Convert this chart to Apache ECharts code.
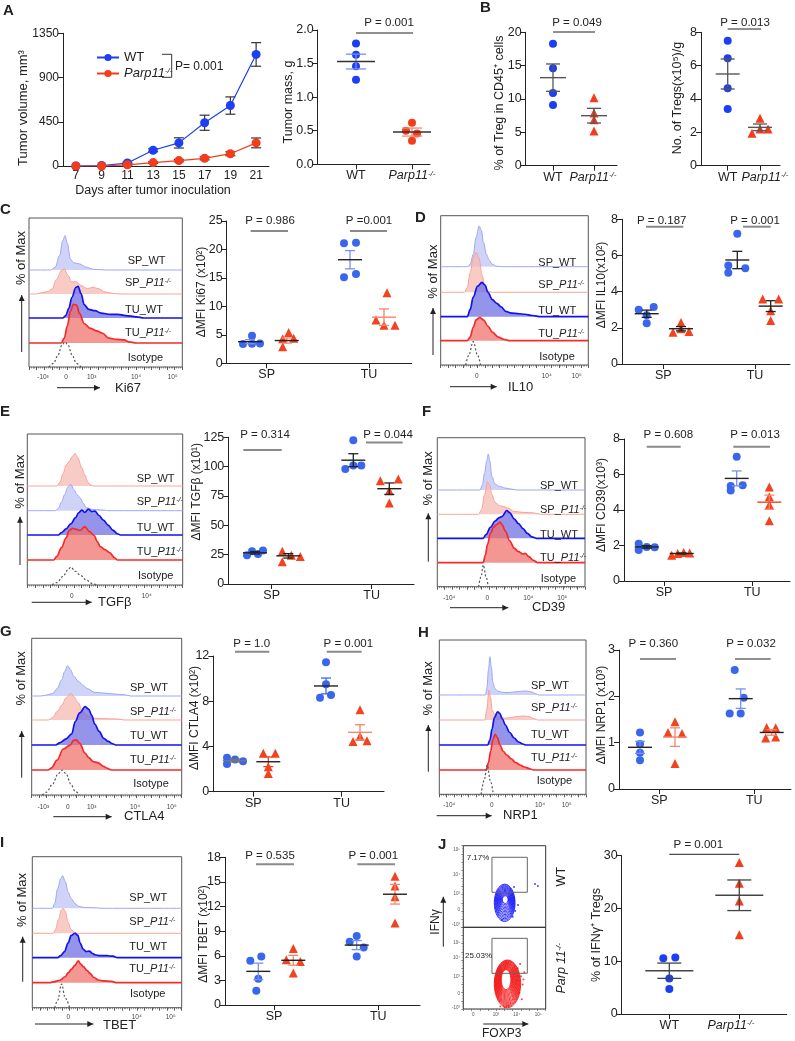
<!DOCTYPE html>
<html><head><meta charset="utf-8">
<script src="https://cdn.jsdelivr.net/npm/echarts@6/dist/echarts.min.js"></script>
<style>html,body{margin:0;padding:0;background:#fff}#c{width:795px;height:1041px}</style>
</head><body><div id="c"></div>
<script>
// ================= DATA =================
// A: tumor growth
const days = ['7','9','11','13','15','17','19','21'];
const volWT = [0, 5, 30, 160, 235, 440, 615, 1135];
const volWTsem = [0, 0, 8, 15, 52, 77, 88, 120];
const volKO = [0, 0, 12, 35, 55, 78, 125, 235];
const volKOsem = [0, 0, 5, 8, 12, 15, 20, 50];
// A: tumor mass
const massWT = [1.8, 1.63, 1.46, 1.26];
const massKO = [0.62, 0.5, 0.46, 0.35];
const massMean = [1.53, 0.48];
const massSem = [0.11, 0.06];
// B
const tregPctWT = [18.3, 14.6, 10.9, 9.1];
const tregPctKO = [10.2, 7.9, 6.9, 5.2];
const tregPctMean = [13.2, 7.5];
const tregPctSem = [2.05, 1.1];
const tregNumWT = [7.5, 6.45, 4.65, 3.4];
const tregNumKO = [2.85, 1.95, 2.2, 2.2];
const tregNumMean = [5.5, 2.3];
const tregNumSem = [0.9, 0.2];
// C Ki67
const ki67_SPWT = [4.85, 3.4, 3.5, 3.45];
const ki67_SPKO = [5.4, 4.3, 4.4, 2.9];
const ki67_TUWT = [21.1, 21.2, 15.1, 15.7];
const ki67_TUKO = [12.4, 7.6, 6.7, 6.7];
const ki67Mean = [3.8, 4.0, 18.2, 8.1];
const ki67Sem = [0.35, 0.45, 1.6, 1.45];
// D IL10
const il10_SPWT = [3.0, 3.15, 2.7, 2.25];
const il10_SPKO = [2.3, 1.75, 1.95, 1.8];
const il10_TUWT = [7.2, 5.45, 5.3, 5.05];
const il10_TUKO = [3.6, 3.6, 2.95, 2.4];
const il10Mean = [2.78, 1.95, 5.75, 3.2];
const il10Sem = [0.2, 0.12, 0.48, 0.3];
// E TGFb
const tgf_SPWT = [24.5, 28, 25.5, 28.5];
const tgf_SPKO = [28, 19, 24.5, 23.5];
const tgf_TUWT = [122.5, 98, 101, 101];
const tgf_TUKO = [88, 89.5, 79.5, 69];
const tgfMean = [26.6, 24, 105.5, 81.2];
const tgfSem = [1.0, 1.9, 5.5, 4.9];
// F CD39
const cd39_SPWT = [2.1, 1.75, 1.92, 1.9];
const cd39_SPKO = [1.45, 1.55, 1.6, 1.58];
const cd39_TUWT = [7.0, 5.4, 5.35, 5.1];
const cd39_TUKO = [5.3, 4.75, 4.3, 3.4];
const cd39Mean = [1.92, 1.55, 5.78, 4.44];
const cd39Sem = [0.07, 0.03, 0.42, 0.4];
// G CTLA4
const ctla4_SPWT = [3.0, 2.85, 2.7, 2.45];
const ctla4_SPKO = [3.4, 3.4, 2.2, 1.6];
const ctla4_TUWT = [11.45, 9.5, 8.55, 8.3];
const ctla4_TUKO = [7.25, 4.45, 4.9, 4.5];
const ctla4Mean = [2.75, 2.65, 9.35, 5.25];
const ctla4Sem = [0.12, 0.43, 0.7, 0.67];
// H NRP1
const nrp1_SPWT = [1.22, 0.97, 0.78, 0.62];
const nrp1_SPKO = [1.45, 1.22, 1.2, 0.55];
const nrp1_TUWT = [2.57, 1.97, 1.63, 1.63];
const nrp1_TUKO = [1.33, 1.32, 1.1, 1.12];
const nrp1Mean = [0.9, 1.12, 1.95, 1.22];
const nrp1Sem = [0.13, 0.2, 0.21, 0.06];
// I TBET
const tbet_SPWT = [5.4, 5.9, 3.2, 1.75];
const tbet_SPKO = [6.9, 5.5, 5.3, 3.9];
const tbet_TUWT = [7.7, 8.4, 7.0, 5.9];
const tbet_TUKO = [15.7, 14.5, 13.2, 10.0];
const tbetMean = [4.1, 5.45, 7.3, 13.5];
const tbetSem = [1.0, 0.6, 0.55, 1.2];
// J IFNg
const ifngWT = [10.55, 10.7, 6.75, 4.75];
const ifngKO = [28.7, 24.8, 21.4, 15.0];
const ifngMean = [8.2, 22.5];
const ifngSem = [1.45, 2.9];

// Histograms: [position on display scale 0-100, % of max in row units]
const hKi67_SPWT = [[0,0],[14,0],[17,0.1],[20,0.6],[22,1.2],[23.5,1.41],[25,1.1],[27,0.45],[29,0.3],[33,0.25],[37,0.12],[42,0.03],[50,0],[100,0]];
const hKi67_SPKO = [[0,0],[5,0],[8,0.05],[12,0.1],[15,0.2],[18,0.6],[21,0.95],[23,1.04],[25,0.8],[28,0.5],[31,0.5],[34,0.35],[38,0.22],[42,0.28],[45,0.22],[50,0.08],[55,0.02],[60,0],[100,0]];
const hKi67_TUWT = [[0,0],[22,0],[24,0.1],[26,0.4],[28,0.85],[30.5,1.25],[32,1.3],[34,1.0],[36,0.55],[39,0.35],[43,0.3],[47,0.2],[53,0.15],[58,0.15],[63,0.1],[70,0.05],[75,0],[100,0]];
const hKi67_TUKO = [[0,0],[21,0],[23,0.2],[25,0.7],[27,1.3],[29,1.58],[31,1.55],[33,1.2],[36,0.8],[40,0.6],[44,0.5],[48,0.4],[52,0.2],[57,0.15],[62,0.13],[65,0.05],[70,0],[100,0]];
const hKi67_ISO = [[13,0],[16,0.15],[19,0.5],[21.5,0.9],[23.5,1.03],[25.5,0.9],[28,0.5],[31,0.15],[34,0]];

const hIL10_SPWT = [[0,0],[18,0],[20,0.1],[22,0.5],[24,1.2],[26,1.67],[27.5,1.5],[29,1.0],[31,0.5],[33,0.25],[35,0.1],[38,0.02],[42,0],[100,0]];
const hIL10_SPKO = [[0,0],[16,0],[18,0.2],[20,0.8],[22,1.4],[24,1.64],[26,1.4],[28,0.7],[30,0.25],[32,0.05],[35,0],[100,0]];
const hIL10_TUWT = [[0,0],[18,0],[20,0.3],[22,0.8],[25,1.25],[28,1.41],[30,1.3],[32,1.0],[35,0.7],[38,0.55],[41,0.4],[44,0.22],[48,0.15],[53,0.12],[57,0.1],[62,0.05],[68,0],[100,0]];
const hIL10_TUKO = [[0,0],[18,0],[20,0.15],[22,0.55],[24,0.85],[26.5,0.96],[29,0.85],[32,0.6],[35,0.35],[39,0.15],[43,0.05],[47,0],[100,0]];
const hIL10_ISO = [[17,0],[19,0.4],[22,0.96],[25,0.4],[27,0]];

const hTGF_SPWT = [[0,0],[19,0],[21,0.15],[23,0.5],[25,0.85],[27,1.0],[29,1.2],[30.7,1.32],[32.5,1.15],[35,0.75],[37,0.45],[39,0.15],[41,0.03],[43,0],[100,0]];
const hTGF_SPKO = [[0,0],[18,0],[20,0.1],[22,0.35],[24,0.65],[26,0.95],[28,1.07],[30,0.85],[32,0.65],[34,0.52],[36,0.3],[38,0.12],[42,0.05],[50,0.02],[52,0],[100,0]];
const hTGF_TUWT = [[0,0],[20,0],[22,0.1],[25,0.25],[28,0.45],[31,0.7],[33,0.9],[35,1.01],[37,0.92],[39.3,1.05],[41.5,0.95],[43.6,0.97],[46,0.8],[49,0.6],[52,0.4],[55,0.2],[58,0.05],[60,0],[100,0]];
const hTGF_TUKO = [[0,0],[17,0],[19,0.15],[22,0.5],[25,0.9],[27,1.2],[29,1.28],[31,1.25],[34,1.2],[37,1.35],[40,1.15],[43,1.0],[45,0.75],[47,0.54],[50,0.42],[53,0.3],[56,0.1],[58,0],[100,0]];
const hTGF_ISO = [[16,0],[19,0.1],[23,0.35],[26,0.6],[28,0.72],[31,0.55],[34,0.4],[38,0.2],[42,0.05],[45,0]];

const hCD39_SPWT = [[0,0],[29,0],[30.5,0.2],[32,0.7],[33.5,1.2],[34.5,1.47],[35.5,1.2],[37,0.55],[39,0.25],[42,0.15],[46,0.08],[50,0.04],[54,0],[100,0]];
const hCD39_SPKO = [[0,0],[28,0],[30,0.2],[32,0.8],[34,1.34],[35.5,1.2],[37,0.8],[39,0.5],[42,0.35],[45,0.32],[48,0.25],[52,0.12],[58,0.08],[65,0.06],[70,0],[100,0]];
const hCD39_TUWT = [[0,0],[31,0],[33,0.15],[36,0.45],[39,0.7],[42,0.85],[44,0.9],[47,1.14],[49,1.05],[52,0.8],[55,0.6],[58,0.4],[61,0.2],[64,0.06],[67,0],[100,0]];
const hCD39_TUKO = [[0,0],[31,0],[32.5,0.3],[34,0.75],[36,1.2],[38,1.45],[40,1.55],[42.4,1.66],[44,1.55],[46,1.3],[49,0.9],[52,0.6],[55,0.45],[58,0.35],[59.5,0.38],[62,0.25],[65,0.1],[68,0],[100,0]];
const hCD39_ISO = [[28,0],[29.5,0.4],[31.2,0.89],[33,0.4],[34.5,0]];

const hCTLA4_SPWT = [[0,0],[6,0],[10,0.04],[14,0.1],[17,0.3],[20,0.65],[22,1.0],[24,1.22],[26,1.05],[28,0.8],[31,0.6],[34,0.45],[37,0.3],[42,0.15],[48,0.12],[55,0.08],[62,0.05],[66,0],[100,0]];
const hCTLA4_SPKO = [[0,0],[11,0],[14,0.1],[17,0.35],[20,0.6],[23,0.9],[26,1.08],[28,0.95],[31,0.7],[34,0.35],[38,0.15],[42,0.07],[50,0.05],[57,0.04],[62,0],[100,0]];
const hCTLA4_TUWT = [[0,0],[16,0],[19,0.1],[23,0.25],[26.7,0.45],[29,0.95],[32,1.3],[35.6,1.55],[38,1.45],[40,1.2],[42,0.85],[45,0.55],[48,0.27],[51,0.15],[54,0.05],[56,0],[100,0]];
const hCTLA4_TUKO = [[0,0],[11,0],[13,0.08],[17,0.4],[21,0.85],[25.6,1.01],[28,1.2],[29.6,1.22],[32,1.08],[35.6,0.68],[38,0.5],[41,0.34],[44,0.3],[47.8,0.15],[50,0.08],[53,0],[100,0]];
const hCTLA4_ISO = [[7,0],[10,0.12],[14,0.45],[17.5,0.85],[20.4,1.01],[23,0.85],[26,0.45],[29,0.15],[32,0]];

const hNRP1_SPWT = [[0,0],[31.5,0],[32.5,0.3],[33.5,1.0],[34.5,1.53],[35.5,1.1],[36.5,0.5],[38,0.25],[40,0.15],[44,0.1],[48,0.1],[52,0.13],[56,0.15],[59.5,0.16],[63,0.12],[66,0.04],[68,0],[100,0]];
const hNRP1_SPKO = [[0,0],[31,0],[32.3,0.4],[33.9,1.2],[35,0.9],[36,0.4],[38,0.2],[41,0.1],[45,0.07],[49,0.1],[53,0.14],[57,0.16],[61,0.14],[65,0.05],[67,0],[100,0]];
const hNRP1_TUWT = [[0,0],[33,0],[34.5,0.2],[36,0.65],[37.5,1.1],[39.8,1.33],[41,1.28],[43,1.05],[45,0.8],[48,0.5],[51,0.28],[54,0.12],[57,0.04],[59,0],[100,0]];
const hNRP1_TUKO = [[0,0],[32,0],[33.5,0.3],[35,0.75],[36.5,1.2],[38,1.43],[39.5,1.3],[41.4,1.0],[43.5,0.75],[46,0.6],[49,0.45],[52,0.3],[55,0.2],[58,0.12],[61.8,0.05],[64,0],[100,0]];
const hNRP1_ISO = [[28.5,0],[30.5,0.55],[32.7,1.17],[34.8,0.55],[36.8,0]];

const hTBET_SPWT = [[0,0],[13.5,0],[15,0.2],[17,0.8],[19,1.2],[20.3,1.32],[22,1.1],[24,0.65],[26,0.4],[28.5,0.2],[31,0.08],[35,0.03],[43,0.02],[46,0],[100,0]];
const hTBET_SPKO = [[0,0],[14,0],[15.5,0.15],[17.5,0.55],[19.5,0.95],[20.8,1.01],[22,0.9],[24,0.45],[26,0.15],[28,0.05],[30,0],[100,0]];
const hTBET_TUWT = [[0,0],[17,0],[19,0.08],[21.5,0.25],[24,0.6],[26,0.9],[28.6,0.99],[30.5,0.9],[32,0.6],[34,0.35],[36,0.25],[38.2,0.27],[40,0.18],[42,0.12],[45,0.08],[50,0.08],[54,0.06],[57,0],[100,0]];
const hTBET_TUKO = [[0,0],[11.5,0],[14,0.03],[18.5,0.1],[21.9,0.24],[24,0.4],[26.3,0.55],[28.5,0.7],[30.8,0.88],[32.5,0.75],[34.2,0.65],[36.5,0.5],[38.6,0.38],[41,0.22],[44.2,0.11],[48,0.07],[53,0.05],[56.5,0],[100,0]];
const hTBET_ISO = [[15,0],[17,0.3],[19.6,0.96],[22,0.4],[25,0]];

// J flow: contour levels [cx, cy, rx, ry] on display scale, outlier events, gates
const contourWT = [[50.2,30.0,12.6,22.9],[50.3,30.3,11.9,21.5],[50.3,30.6,11.2,20.1],[50.4,30.9,10.5,18.7],[50.4,31.2,9.8,17.3],[50.5,31.5,9.1,15.9],[50.5,31.8,8.4,14.5],[50.6,32.1,7.7,13.1],[50.6,32.4,7.0,11.7],[50.7,32.7,6.3,10.3],[50.7,33.0,5.6,8.9],[50.8,33.3,4.9,7.5],[50.8,33.6,4.2,6.1],[50.9,33.9,3.5,4.7]];
const eventsWT = [[87,53],[90.5,50.6],[66.4,27.3],[61.5,49.4],[46.8,9],[60,13],[63,20]];
const contourKO = [[53.6,30.8,16.0,29.2],[53.5,31.1,15.4,28.2],[53.4,31.4,14.8,27.2],[53.3,31.7,14.2,26.2],[53.2,32.0,13.6,25.2],[53.1,32.3,13.0,24.2],[53.0,32.6,12.4,23.2],[52.9,32.9,11.8,22.2],[52.8,33.2,11.2,21.2],[52.7,33.5,10.6,20.2],[52.6,33.8,10.0,19.2],[52.5,34.1,9.4,18.2],[52.4,34.4,8.8,17.2],[52.3,34.7,8.2,16.2],[52.2,35.0,7.6,15.2],[52.1,35.3,7.0,14.2],[52.0,35.6,6.4,13.2],[51.9,35.9,5.8,12.2]];
const eventsKO = [[70,40],[72,30],[68,20],[74,45],[45,3],[50,2],[55,4],[66,50],[71,12],[73,36],[69,55]];
const gateWT = [34.8, 42.9, 77.7, 85.8];
const gateKO = [34.8, 43.7, 77.7, 86.5];

// ================= STYLE / HELPERS =================
const FF = '"Liberation Sans", Arial, Helvetica, sans-serif';
const BLUE = '#1c3ef5', RED = '#f43c1c', BLUE2 = '#3a66ee', RED2 = '#f2431f';
const LBLUE = '#7890ef', LRED = '#f5866f';
const option = {animation:false, textStyle:{fontFamily:FF}, grid:[], xAxis:[], yAxis:[], series:[], graphic:[]};

function gRich(fs){
  return {n:{fontSize:fs,fontFamily:FF,fill:'#222'}, i:{fontSize:fs,fontFamily:FF,fontStyle:'italic',fill:'#222'},
          s:{fontSize:Math.round(fs*0.62),fontFamily:FF,fontStyle:'italic',fill:'#222',verticalAlign:'top'}};
}
function aRich(fs){
  return {i:{fontSize:fs,fontFamily:FF,fontStyle:'italic',color:'#222'},
          s:{fontSize:Math.round(fs*0.62),fontFamily:FF,fontStyle:'italic',color:'#222',verticalAlign:'top'}};
}
function txt(x, y, text, o){
  o = o || {};
  const fs = o.fs || 12, al = o.align || 'center';
  option.graphic.push({type:'text', x:x, y:y, rotation:o.rot||0, silent:true, z:20,
    style:{text:text, fill:o.color||'#222', fontSize:fs, fontFamily:FF, fontStyle:o.it?'italic':'normal',
      fontWeight:o.bold?'bold':'normal', align:al, textAlign:al, verticalAlign:'middle', textVerticalAlign:'middle', rich:gRich(fs)}});
}
function seg(x1,y1,x2,y2,color,w,dash){
  option.graphic.push({type:'line', silent:true, z:20, shape:{x1:x1,y1:y1,x2:x2,y2:y2},
    style:{stroke:color||'#222', lineWidth:w||1, lineDash:dash||null}});
}
function arrow(x1,y1,x2,y2){
  seg(x1,y1,x2,y2,'#222',1);
  const a = Math.atan2(y2-y1,x2-x1), L = 6, Wd = 3;
  option.graphic.push({type:'polygon', silent:true, z:20, shape:{points:[[x2,y2],
    [x2-L*Math.cos(a)+Wd*Math.sin(a), y2-L*Math.sin(a)-Wd*Math.cos(a)],
    [x2-L*Math.cos(a)-Wd*Math.sin(a), y2-L*Math.sin(a)+Wd*Math.cos(a)]]}, style:{fill:'#222'}});
}
function addGrid(grid, xa, ya){
  option.grid.push(grid);
  const i = option.grid.length - 1;
  xa.gridIndex = i; ya.gridIndex = i;
  option.xAxis.push(xa); option.yAxis.push(ya);
  return i;
}
function semSeries(gi, x, mean, sem, mc, sc, mw, cw){
  option.series.push({type:'custom', xAxisIndex:gi, yAxisIndex:gi, silent:true, z:4, clip:false,
    data:[[x, mean, sem]],
    renderItem:function(p, api){
      const c = api.coord([api.value(0), api.value(1)]);
      const t = api.coord([api.value(0), api.value(1)+api.value(2)]);
      const b = api.coord([api.value(0), api.value(1)-api.value(2)]);
      const st = {stroke:sc, lineWidth:1.3};
      return {type:'group', children:[
        {type:'line', shape:{x1:t[0],y1:t[1],x2:b[0],y2:b[1]}, style:st},
        {type:'line', shape:{x1:t[0]-cw,y1:t[1],x2:t[0]+cw,y2:t[1]}, style:st},
        {type:'line', shape:{x1:b[0]-cw,y1:b[1],x2:b[0]+cw,y2:b[1]}, style:st},
        {type:'line', shape:{x1:c[0]-mw,y1:c[1],x2:c[0]+mw,y2:c[1]}, style:{stroke:mc, lineWidth:1.4}}]};
    }});
}

function scatterPanel(P){
  const W = P.x1 - P.x0, fs = P.fs || 12.5;
  const tickVals = P.xl.map(function(l){ return l[0] - P.x0; });
  const labVals = P.xl.map(function(l){ return (l[2] || l[0]) - P.x0; });
  const labFor = function(v){ for (const l of P.xl) { if (Math.abs(((l[2] || l[0]) - P.x0) - v) < 0.05) return l[1]; } return ''; };
  const gi = addGrid({left:P.x0, top:P.yTop, width:W, height:P.yBot-P.yTop},
    {type:'value', min:0, max:W, splitLine:{show:false},
     axisLine:{show:true, onZero:false, lineStyle:{color:'#222', width:1}},
     axisTick:{show:true, length:5, customValues:tickVals, lineStyle:{color:'#222'}},
     axisLabel:{show:true, customValues:labVals, formatter:labFor, hideOverlap:false, margin:5, fontSize:fs, color:'#222', fontFamily:FF, rich:aRich(fs)}},
    {type:'value', min:P.min, max:P.max, interval:P.int, splitLine:{show:false},
     axisLine:{show:true, lineStyle:{color:'#222', width:1}},
     axisTick:{show:true, length:5, lineStyle:{color:'#222'}},
     axisLabel:{fontSize:fs, color:'#222', margin:4, fontFamily:FF,
       formatter:function(v){ return P.dec ? v.toFixed(P.dec) : String(v); }}});
  P.groups.forEach(function(g){
    option.series.push({type:'scatter', xAxisIndex:gi, yAxisIndex:gi, silent:true, z:3,
      symbol: g.sym === 'tri' ? 'triangle' : 'circle', symbolSize: g.sym === 'tri' ? 9 : 8,
      itemStyle:{color:g.col, opacity:1},
      data: g.v.map(function(v,k){ return [g.c - P.x0 + (g.jit ? g.jit[k] : 0), v]; })});
    semSeries(gi, g.c - P.x0, g.m, g.s, g.mc, g.sc, P.mw, P.cw);
  });
  P.p.forEach(function(q){ txt(q[1], q[2], q[0], {fs:11.5}); seg(q[3], q[5], q[4], q[5], P.pc, P.pw); });
  txt(P.yt[1], P.yt[2], P.yt[0], {rot:Math.PI/2, fs:P.ytf || 12});
}

const HS = {
  lb:{line:'#9ea6f1', fill:'rgba(196,200,246,0.8)', w:1},
  lr:{line:'#f5a39a', fill:'rgba(247,186,178,0.75)', w:1},
  b:{line:'#1212ee', fill:'rgba(112,112,228,0.75)', w:1.7},
  r:{line:'#f52a2a', fill:'rgba(240,110,104,0.72)', w:1.7},
  iso:{line:'#555', dash:[2,2], w:1.2}
};
const ROWLAB = ['SP_WT', 'SP_{i|P11}{s|-/-}', 'TU_WT', 'TU_{i|P11}{s|-/-}', 'Isotype'];

function histPanel(H){
  const W = H.R - H.L;
  addGrid({left:H.L, top:H.T, width:W, height:H.B-H.T, show:true, borderColor:'#555', borderWidth:1, backgroundColor:'rgba(0,0,0,0)'},
    {type:'value', min:0, max:100, interval:5, splitLine:{show:false}, axisLine:{show:false}, axisLabel:{show:false},
     axisTick:{show:true, length:3, lineStyle:{color:'#333', width:0.8}},
     minorTick:{show:true, splitNumber:4, length:1.5, lineStyle:{color:'#555', width:0.6}}},
    {type:'value', min:0, max:1, show:false});
  H.rows.forEach(function(d, k){
    const st = HS[H.sty[k]];
    const gi = addGrid({left:H.L, top:H.base[k]-H.rh, width:W, height:H.rh},
      {type:'value', min:0, max:100, show:false}, {type:'value', min:0, max:1, show:false});
    const s = {type:'line', xAxisIndex:gi, yAxisIndex:gi, data:d, showSymbol:false, symbol:'none', silent:true,
      smooth:0.35, smoothMonotone:'x', clip:false, z:2+k*0.01,
      lineStyle:{color:st.line, width:st.w, type: st.dash ? st.dash : 'solid'}};
    if (st.fill) s.areaStyle = {color:st.fill, opacity:1};
    option.series.push(s);
    txt(H.lab[k][0], H.lab[k][1], ROWLAB[k], {fs:11, align:'left'});
  });
  H.xt[1].forEach(function(t){ txt(t[0], H.xt[0], t[1], {fs:6.5, color:'#444'}); });
  arrow(H.up[0], H.up[1], H.up[0], H.up[2]);
  txt(H.pm[0], H.pm[1], '% of Max', {rot:Math.PI/2, fs:13});
  arrow(H.rt[0], H.rt[2], H.rt[1], H.rt[2]);
  txt(H.nm[1], H.nm[2], H.nm[0], {fs:13, align:'left'});
}

// ================= PANEL A =================
const gA = addGrid({left:63, top:33.3, width:206, height:132.7},
  {type:'category', data:days, boundaryGap:true, axisLine:{lineStyle:{color:'#222'}},
   axisTick:{alignWithLabel:true, length:4, lineStyle:{color:'#222'}}, axisLabel:{fontSize:12, color:'#222', margin:4}},
  {type:'value', min:0, max:1350, interval:450, splitLine:{show:false}, axisLine:{show:true, lineStyle:{color:'#222'}},
   axisTick:{show:true, length:5, lineStyle:{color:'#222'}}, axisLabel:{fontSize:12, color:'#222', margin:4, formatter:function(v){ return String(v); }}});
function errSeries(gi, vals, errs){
  option.series.push({type:'custom', xAxisIndex:gi, yAxisIndex:gi, silent:true, z:2,
    data: vals.map(function(v,i){ return [i, v, errs[i]]; }),
    renderItem:function(p, api){
      const i = api.value(0), v = api.value(1), e = api.value(2);
      if (!(e > 0)) return null;
      const t = api.coord([i, v+e]), b = api.coord([i, v-e]);
      const st = {stroke:'#333', lineWidth:1.2};
      return {type:'group', children:[
        {type:'line', shape:{x1:t[0],y1:t[1],x2:b[0],y2:b[1]}, style:st},
        {type:'line', shape:{x1:t[0]-5,y1:t[1],x2:t[0]+5,y2:t[1]}, style:st},
        {type:'line', shape:{x1:b[0]-5,y1:b[1],x2:b[0]+5,y2:b[1]}, style:st}]};
    }});
}
errSeries(gA, volWT, volWTsem);
errSeries(gA, volKO, volKOsem);
option.series.push({name:'WT', type:'line', xAxisIndex:gA, yAxisIndex:gA, data:volWT, symbol:'circle', symbolSize:9,
  itemStyle:{color:BLUE}, lineStyle:{color:BLUE, width:1.2}, z:3, silent:true});
option.series.push({name:'Parp11', type:'line', xAxisIndex:gA, yAxisIndex:gA, data:volKO, symbol:'circle', symbolSize:9,
  itemStyle:{color:RED}, lineStyle:{color:RED, width:1.2}, z:3, silent:true});
option.legend = {data:['WT','Parp11'], orient:'vertical', left:91, top:46, itemWidth:22, itemHeight:9, itemGap:3,
  selectedMode:false, textStyle:{fontSize:13, color:'#222', fontFamily:FF, rich:aRich(13)},
  formatter:function(n){ return n === 'WT' ? 'WT' : '{i|Parp11}{s|-/-}'; }};
option.graphic.push({type:'polyline', silent:true, z:20, shape:{points:[[162,54.3],[171.7,54.3],[171.7,77.3],[162,77.3]]}, style:{stroke:'#333', lineWidth:1, fill:null}});
txt(175, 66.7, 'P= 0.001', {fs:12, align:'left'});
txt(153, 191, 'Days after tumor inoculation', {fs:12.5});
txt(23.3, 108, 'Tumor volume, mm³', {rot:Math.PI/2, fs:13});

scatterPanel({x0:317.7, x1:430, yTop:30, yBot:164.3, min:0, max:2, int:0.5, dec:1, mw:19, cw:10, fs:12.5, pc:'#222', pw:1, ytf:12.5,
  groups:[{c:356, v:massWT, m:massMean[0], s:massSem[0], col:BLUE, sym:'circle', jit:[0,0,0,0], mc:'#333', sc:LBLUE},
          {c:412, v:massKO, m:massMean[1], s:massSem[1], col:RED, sym:'circle', jit:[0,-6,5,0], mc:'#333', sc:LRED}],
  xl:[[356,'WT'],[412,'{i|Parp11}{s|-/-}']], p:[['P = 0.001',389,23,356,413,33]], yt:['Tumor mass, g',288.5,102]});

// ================= PANEL B =================
scatterPanel({x0:525.7, x1:617, yTop:32.3, yBot:165.7, min:0, max:20, int:5, mw:13, cw:7, pc:'#222', pw:1, ytf:12.5,
  groups:[{c:553, v:tregPctWT, m:tregPctMean[0], s:tregPctSem[0], col:BLUE, sym:'circle', mc:'#555', sc:'#555'},
          {c:594, v:tregPctKO, m:tregPctMean[1], s:tregPctSem[1], col:RED, sym:'tri', mc:'#555', sc:'#555'}],
  xl:[[553,'WT'],[594,'{i|Parp11}{s|-/-}',593]], p:[['P = 0.049',577,23,553,595,32]], yt:['% of Treg in CD45⁺ cells',500,103]});
scatterPanel({x0:701, x1:780, yTop:32.3, yBot:165.7, min:0, max:8, int:2, mw:12, cw:7, pc:'#222', pw:1, ytf:12.5,
  groups:[{c:727.7, v:tregNumWT, m:tregNumMean[0], s:tregNumSem[0], col:BLUE, sym:'circle', mc:'#555', sc:'#555'},
          {c:760, v:tregNumKO, m:tregNumMean[1], s:tregNumSem[1], col:RED, sym:'tri', jit:[0,-8,0,8], mc:'#555', sc:'#555'}],
  xl:[[727.7,'WT'],[760,'{i|Parp11}{s|-/-}',765]], p:[['P = 0.013',745,23,727.7,761,29]], yt:['No. of Tregs(x10⁵)/g',678,98]});

// ================= PANELS C-I (dot plots) =================
function fourGroups(cs, arrs, means, sems, jits, mcs, scs){
  return arrs.map(function(a, k){
    return {c:cs[k], v:a, m:means[k], s:sems[k], col:(k%2 ? RED2 : BLUE2), sym:(k%2 ? 'tri' : 'circle'), jit:jits[k], mc:mcs[k], sc:scs[k]};
  });
}
const K = '#222';
scatterPanel({x0:226.7, x1:411.7, yTop:221, yBot:363.3, min:0, max:25, int:5, mw:12, cw:5, pc:'#8a8a8a', pw:2,
  groups:fourGroups([250,286.7,350,384],[ki67_SPWT,ki67_SPKO,ki67_TUWT,ki67_TUKO],ki67Mean,ki67Sem,
    [[2,-7,10,2],[2,-4,7,-4],[-6,6,-6,6],[3,-8,0,11]],[K,K,K,LRED],[LBLUE,LRED,LBLUE,LRED]),
  xl:[[266.7,'SP'],[369,'TU']], p:[['P = 0.986',270,221,250.7,288,231],['P =0.001',369,221,350,387,231]],
  yt:['ΔMFI Ki67 (x10²)',201.7,292]});
scatterPanel({x0:622, x1:790, yTop:219.3, yBot:364, min:0, max:8, int:2, mw:12, cw:5, pc:'#8a8a8a', pw:2,
  groups:fourGroups([646.7,681,737.3,770.7],[il10_SPWT,il10_SPKO,il10_TUWT,il10_TUKO],il10Mean,il10Sem,
    [[-8,7,0,0],[0,-8,0,8],[0,-9,8,-9],[-8,8,0,0]],[K,K,K,K],[K,K,K,K]),
  xl:[[663.3,'SP'],[755,'TU']], p:[['P = 0.187',661.7,221,646,683.3,226.7],['P = 0.001',755,221,743,770.7,226.7]],
  yt:['ΔMFI IL10(x10²)',601.7,285]});
scatterPanel({x0:228.3, x1:414, yTop:437.3, yBot:584, min:0, max:125, int:25, mw:12, cw:5, pc:'#8a8a8a', pw:2,
  groups:fourGroups([255,288.3,353.3,389.3],[tgf_SPWT,tgf_SPKO,tgf_TUWT,tgf_TUKO],tgfMean,tgfSem,
    [[-8,-3,3,8],[-6,-6,3,12],[0,-8,0,8],[-9,9,0,0]],[K,K,K,K],[K,K,K,K]),
  xl:[[271.7,'SP'],[371.7,'TU']], p:[['P = 0.314',265,435,243.3,281.7,450],['P = 0.044',388,435,366,402.7,442.6]],
  yt:['ΔMFI TGFβ (x10¹)',196.7,491.7]});
scatterPanel({x0:624, x1:790, yTop:439, yBot:581, min:0, max:8, int:2, mw:12, cw:5, pc:'#8a8a8a', pw:2,
  groups:fourGroups([646.7,681.7,736.7,769.3],[cd39_SPWT,cd39_SPKO,cd39_TUWT,cd39_TUKO],cd39Mean,cd39Sem,
    [[-8,-8,0,8],[-10,-4,2,8],[0,6,-6,-6],[0,0,0,0]],[K,K,K,RED2],[K,K,LBLUE,LRED]),
  xl:[[664,'SP'],[752.3,'TU']], p:[['P = 0.608',668.3,435,646.7,680.7,446.7],['P = 0.013',755,435,733.3,770,446.7]],
  yt:['ΔMFI CD39(x10³)',601.7,505]});
scatterPanel({x0:213.3, x1:384, yTop:656, yBot:791.7, min:0, max:12, int:4, mw:12, cw:5, pc:'#8a8a8a', pw:2,
  groups:fourGroups([235,268.3,326,360],[ctla4_SPWT,ctla4_SPKO,ctla4_TUWT,ctla4_TUKO],ctla4Mean,ctla4Sem,
    [[-8,0,8,-8],[-5,7,0,0],[0,0,5,-6],[0,-7,0,7]],['#777',K,K,LRED],['#777',RED2,BLUE2,LRED]),
  xl:[[253.3,'SP'],[341.7,'TU']], p:[['P = 1.0',251.7,644.3,235,269.3,651.7],['P = 0.001',348.3,644.3,326.7,361.7,651.7]],
  yt:['ΔMFI CTLA4 (x10²)',195,718]});
scatterPanel({x0:619, x1:791, yTop:650, yBot:789, min:0, max:3, int:1, mw:12, cw:5, pc:'#222', pw:1.2,
  groups:fourGroups([640,675,740.7,771.7],[nrp1_SPWT,nrp1_SPKO,nrp1_TUWT,nrp1_TUKO],nrp1Mean,nrp1Sem,
    [[0,0,0,0],[0,-7,7,0],[-6,3,-11,0],[-5,4,-6,4]],[K,LRED,K,K],[LBLUE,LRED,LBLUE,LRED]),
  xl:[[659.3,'SP'],[754.3,'TU']], p:[['P = 0.360',653.3,644.3,640,676,659],['P = 0.032',751,644.3,735,770.7,659]],
  yt:['ΔMFI NRP1 (x10³)',601.7,715]});
scatterPanel({x0:225, x1:420, yTop:857.3, yBot:1005, min:0, max:18, int:3, mw:12, cw:5, pc:'#8a8a8a', pw:2,
  groups:fourGroups([258.3,293.3,356.7,395],[tbet_SPWT,tbet_SPKO,tbet_TUWT,tbet_TUKO],tbetMean,tbetSem,
    [[-8,3,0,-2],[0,-7,7,0],[-7,0,7,0],[0,0,0,0]],[K,K,K,K],[LBLUE,LRED,LBLUE,LRED]),
  xl:[[274,'SP'],[378.3,'TU']], p:[['P = 0.535',270,855.7,256,294,864.3],['P = 0.001',373.3,855.7,357.3,395,864.3]],
  yt:['ΔMFI TBET (x10²)',204,934]});

// ================= HISTOGRAMS =================
const STD = ['lb','lr','b','r','iso'];
histPanel({L:29,R:182.3,T:218,B:367,base:[270,294,318,343,367],rh:24.4,
  rows:[hKi67_SPWT,hKi67_SPKO,hKi67_TUWT,hKi67_TUKO,hKi67_ISO], sty:STD,
  lab:[[127.7,261],[125,283],[125,310],[125,333],[127.7,357.7]],
  xt:[377.7,[[43,'-10³'],[66,'0'],[91.7,'10³'],[136,'10⁴'],[172.7,'10⁵']]],
  up:[21.7,352,295], pm:[21.7,258], rt:[57,100,387.7], nm:['Ki67',115,388]});
histPanel({L:440.7,R:588.3,T:215.7,B:365,base:[266.7,292.3,316.7,340.7,365],rh:24.4,
  rows:[hIL10_SPWT,hIL10_SPKO,hIL10_TUWT,hIL10_TUKO,hIL10_ISO], sty:STD,
  lab:[[538.3,262.7],[538.3,285],[538.3,311],[538.3,334.3],[539.3,357.3]],
  xt:[376.7,[[476.7,'0'],[546.7,'10⁴'],[576.7,'10⁵']]],
  up:[433,355,308], pm:[433,271.7], rt:[450,496.7,386.7], nm:['IL10',508,387]});
histPanel({L:27.3,R:182.7,T:434,B:585,base:[486,510.7,535,560,585],rh:24.7,
  rows:[hTGF_SPWT,hTGF_SPKO,hTGF_TUWT,hTGF_TUKO,hTGF_ISO], sty:['lr','lb','b','r','iso'],
  lab:[[136.7,479.3],[136.7,502.3],[136.7,528.3],[136.7,551.7],[138,575.7]],
  xt:[596.7,[[71.7,'0'],[146.7,'10⁴']]],
  up:[20,565,516.7], pm:[20,481.7], rt:[31.7,91.7,602.3], nm:['TGFβ',98,602]});
histPanel({L:437.3,R:585,T:437.7,B:586.7,base:[490,514.3,538.3,562.7,586.7],rh:24.4,
  rows:[hCD39_SPWT,hCD39_SPKO,hCD39_TUWT,hCD39_TUKO,hCD39_ISO], sty:STD,
  lab:[[540,486],[540,510],[540,535],[540,558.3],[540.7,579.3]],
  xt:[598.3,[[449.3,'-10⁴'],[487.3,'0'],[528.3,'10⁴'],[562.3,'10⁵']]],
  up:[428.3,561.7,513.3], pm:[428.3,478.3], rt:[450,508.3,607.7], nm:['CD39',532,607]});
histPanel({L:31.7,R:181.7,T:638.3,B:795,base:[696,720,745,770,795],rh:24.7,
  rows:[hCTLA4_SPWT,hCTLA4_SPKO,hCTLA4_TUWT,hCTLA4_TUKO,hCTLA4_ISO], sty:STD,
  lab:[[130,688.3],[130,712.3],[130,736],[130,760],[133.3,784]],
  xt:[807.7,[[43.3,'-10³'],[67.7,'0'],[91.7,'10³'],[135,'10⁴'],[171.7,'10⁵']]],
  up:[21.7,777.7,731], pm:[21.7,678.3], rt:[53.3,111.7,816.7], nm:['CTLA4',124,816]});
histPanel({L:439.3,R:586,T:640,B:794.3,base:[695,720,745,770,794.3],rh:25,
  rows:[hNRP1_SPWT,hNRP1_SPKO,hNRP1_TUWT,hNRP1_TUKO,hNRP1_ISO], sty:STD,
  lab:[[531,686],[531,708.3],[531,735],[531,758.3],[536.7,781]],
  xt:[805,[[449.3,'-10⁴'],[491.7,'0'],[540,'10⁴'],[566.7,'10⁵']]],
  up:[428.3,771.7,725], pm:[428.3,688.3], rt:[436.7,491.7,815.7], nm:['NRP1',503,815]});
histPanel({L:32.3,R:181.7,T:856.7,B:1007.7,base:[908.3,933.3,957.7,982.7,1007.7],rh:24.7,
  rows:[hTBET_SPWT,hTBET_SPKO,hTBET_TUWT,hTBET_TUKO,hTBET_ISO], sty:STD,
  lab:[[129.3,898.3],[129.3,921.7],[129.3,946.7],[129.3,969.3],[130,994]],
  xt:[1017.7,[[68.3,'0'],[136.7,'10⁴'],[170.7,'10⁵']]],
  up:[22.7,981.7,936.7], pm:[22.7,900], rt:[35,93.3,1024], nm:['TBET',103,1025]});

// ================= PANEL J =================
function flowBox(top, h, cont, ev, gate, col, showX, lw){
  const tickAx = function(show){ return {type:'value', min:0, max:100, interval:10, splitLine:{show:false}, axisLine:{show:false}, axisLabel:{show:false},
    axisTick:{show:show, length:2, lineStyle:{color:'#444', width:0.6}}, minorTick:{show:show, splitNumber:3, length:1, lineStyle:{color:'#666', width:0.5}}}; };
  const gi = addGrid({left:463.3, top:top, width:82.4, height:h, show:true, borderColor:'#333', borderWidth:1, backgroundColor:'rgba(0,0,0,0)'},
    tickAx(showX), tickAx(true));
  option.series.push({type:'custom', xAxisIndex:gi, yAxisIndex:gi, silent:true, z:3, data:cont,
    renderItem:function(p, api){
      const c = api.coord([api.value(0), api.value(1)]);
      const s = api.size([api.value(2), api.value(3)]);
      return {type:'ellipse', shape:{cx:c[0], cy:c[1], rx:s[0], ry:s[1]}, style:{fill:null, stroke:col, lineWidth:lw}};
    }});
  option.series.push({type:'scatter', xAxisIndex:gi, yAxisIndex:gi, silent:true, z:3, data:ev, symbolSize:2, itemStyle:{color:col}});
  option.series.push({type:'custom', xAxisIndex:gi, yAxisIndex:gi, silent:true, z:4, data:[gate],
    renderItem:function(p, api){
      const a = api.coord([api.value(0), api.value(3)]), b = api.coord([api.value(2), api.value(1)]);
      return {type:'rect', shape:{x:a[0], y:a[1], width:b[0]-a[0], height:b[1]-a[1]}, style:{fill:null, stroke:'#666', lineWidth:1}};
    }});
}
flowBox(845.7, 81.6, contourWT, eventsWT, gateWT, '#1a1aff', false, 0.9);
flowBox(927.3, 81.7, contourKO, eventsKO, gateKO, '#f41a1a', true, 0.9);
txt(466.7, 857.3, '7.17%', {fs:8, align:'left'});
txt(465, 955.7, '25.03%', {fs:8, align:'left'});
[[850,'10⁵'],[875,'10⁴'],[893.3,'10³'],[910,'0'],[925,'-10³'],[942.3,'10⁵'],[957.7,'10⁴'],[976.7,'10³'],[993.3,'0'],[1007.7,'-10³']].forEach(function(t){
  txt(460, t[0], t[1], {fs:4.5, color:'#555', align:'right'}); });
[[473.3,'0'],[496,'10³'],[516.7,'10⁴'],[538.3,'10⁵']].forEach(function(t){ txt(t[0], 1014.3, t[1], {fs:4.5, color:'#555'}); });
txt(561.7, 876.7, 'WT', {rot:Math.PI/2, fs:12.5});
txt(561.7, 968.3, '{i|Parp 11}{s|-/-}', {rot:Math.PI/2, fs:12.5});
txt(436, 922, 'IFNγ', {rot:Math.PI/2, fs:12});
arrow(443.3, 946.7, 443.3, 896.7);
arrow(483.3, 1024, 528.3, 1024);
txt(501.7, 1033.3, 'FOXP3', {fs:12});

scatterPanel({x0:621.7, x1:786.7, yTop:855.7, yBot:1014, min:0, max:30, int:10, mw:24, cw:12, pc:'#222', pw:1, ytf:12.5,
  groups:[{c:669.3, v:ifngWT, m:ifngMean[0], s:ifngSem[0], col:BLUE, sym:'circle', jit:[-6,6,0,0], mc:'#444', sc:'#444'},
          {c:739.3, v:ifngKO, m:ifngMean[1], s:ifngSem[1], col:RED, sym:'tri', mc:'#444', sc:'#444'}],
  xl:[[669.3,'WT'],[739.3,'{i|Parp11}{s|-/-}',731]], p:[['P = 0.001',698.3,845,669.3,739.3,854.3]], yt:['% of IFNγ⁺ Tregs',596.7,935]});

// ================= PANEL LETTERS =================
[['A',3,11],['B',480,8],['C',0,210],['D',415,218],['E',0,412],['F',422,412],['G',0,632],['H',418,633],['I',0,843],['J',438,845]].forEach(function(l){
  txt(l[1], l[2], l[0], {fs:15, bold:true, align:'left'}); });

const chart = echarts.init(document.getElementById('c'), null, {renderer:'canvas', width:795, height:1041});
chart.setOption(option);
</script></body></html>
